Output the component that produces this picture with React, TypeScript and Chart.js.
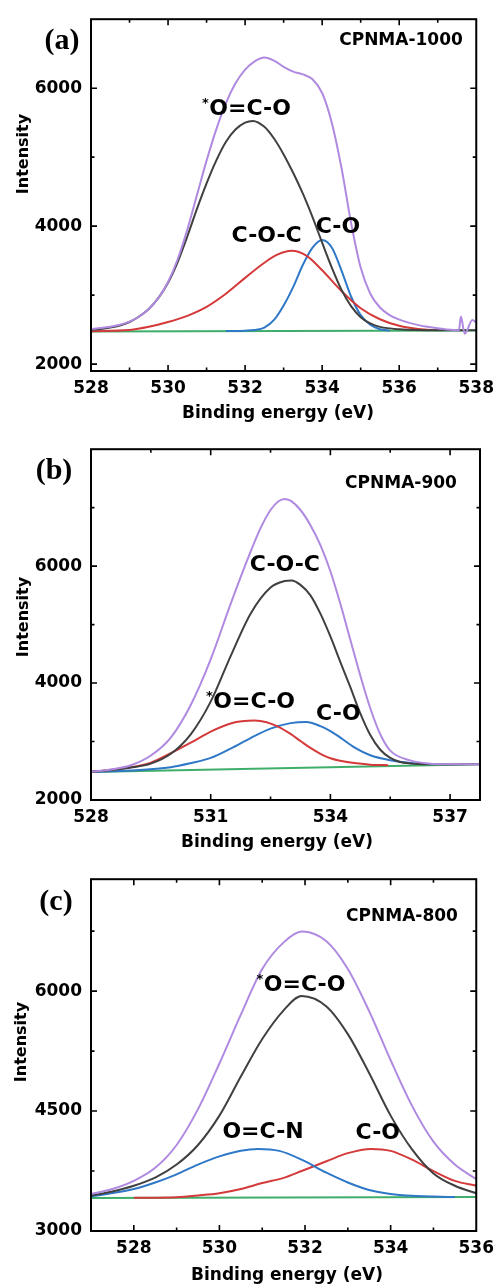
import React, { useEffect, useRef } from "react";
import { Chart, registerables } from "chart.js";

Chart.register(...registerables);

const SANS = '"DejaVu Sans", "Liberation Sans", sans-serif';
const SERIF = '"Liberation Serif", "Times New Roman", serif';

const PURPLE = "#b08ae0";
const BLACK = "#404040";
const RED = "#d43a3a";
const BLUE = "#2f78c8";
const GREEN = "#3fae6a";

// ---------- Panel (a): CPNMA-1000 ----------
const A_X_ENV = [528, 528.25, 528.5, 528.75, 529, 529.25, 529.5, 529.75, 530, 530.25, 530.5, 530.75, 531, 531.25, 531.5, 531.75, 532, 532.25, 532.5, 532.75, 533, 533.25, 533.5, 533.75, 534, 534.25, 534.5, 534.75, 535, 535.25, 535.5, 535.75, 536, 536.5, 537, 537.5, 537.55, 537.6, 537.7, 537.9, 538];
const A_ENV = [2510, 2522, 2540, 2570, 2615, 2690, 2800, 2960, 3190, 3520, 3950, 4450, 4950, 5400, 5780, 6070, 6270, 6390, 6445, 6400, 6310, 6240, 6200, 6130, 5930, 5500, 4850, 4050, 3400, 3020, 2820, 2710, 2645, 2565, 2520, 2490, 2490, 2690, 2440, 2640, 2600];
const A_X_OCO = [528, 528.25, 528.5, 528.75, 529, 529.25, 529.5, 529.75, 530, 530.25, 530.5, 530.75, 531, 531.25, 531.5, 531.75, 532, 532.2, 532.5, 532.75, 533, 533.25, 533.5, 533.75, 534, 534.25, 534.5, 534.75, 535, 535.25, 535.5, 536, 537, 538];
const A_OCO = [2495, 2510, 2530, 2560, 2610, 2690, 2800, 2960, 3180, 3480, 3850, 4250, 4620, 4950, 5220, 5400, 5500, 5525, 5440, 5270, 5040, 4770, 4470, 4130, 3760, 3400, 3080, 2840, 2680, 2590, 2540, 2505, 2490, 2490];
const A_X_COC = [528, 529, 529.5, 530, 530.5, 531, 531.5, 532, 532.5, 532.85, 533.2, 533.6, 534, 534.5, 535, 535.5, 536, 536.5, 537];
const A_COC = [2478, 2495, 2540, 2610, 2700, 2830, 3020, 3250, 3470, 3590, 3643, 3570, 3360, 3060, 2810, 2650, 2555, 2508, 2492];
const A_X_CO = [531.5, 532, 532.25, 532.5, 532.75, 533, 533.25, 533.5, 533.75, 534, 534.25, 534.5, 534.75, 535, 535.25, 535.5, 535.75];
const A_CO = [2480, 2485, 2495, 2530, 2640, 2850, 3120, 3440, 3690, 3800, 3690, 3360, 2980, 2710, 2570, 2505, 2488];
const A_X_BASE = [528, 538];
const A_BASE = [2472, 2488];
const A_X_TICKS = [528, 529, 530, 531, 532, 533, 534, 535, 536, 537, 538];
const A_X_LABELS = [528, 530, 532, 534, 536, 538];
const A_Y_TICKS = [2000, 3000, 4000, 5000, 6000];
const A_Y_LABELS = [2000, 4000, 6000];

// ---------- Panel (b): CPNMA-900 ----------
const B_X_ENV = [528, 528.5, 529, 529.5, 530, 530.5, 531, 531.5, 532, 532.25, 532.5, 532.7, 532.85, 533, 533.25, 533.5, 533.75, 534, 534.25, 534.5, 534.75, 535, 535.25, 535.5, 536, 536.5, 537, 537.75];
const B_ENV = [2482, 2522, 2594, 2761, 3068, 3626, 4407, 5355, 6247, 6650, 6960, 7110, 7150, 7120, 6960, 6700, 6359, 5913, 5355, 4741, 4128, 3570, 3124, 2845, 2678, 2622, 2611, 2612];
const B_X_COC = [528, 528.5, 529, 529.5, 530, 530.5, 531, 531.5, 532, 532.5, 532.85, 533.03, 533.25, 533.5, 533.75, 534, 534.25, 534.5, 534.75, 535, 535.25, 535.5, 535.75, 536, 536.5, 537, 537.75];
const B_COC = [2482, 2515, 2555, 2622, 2790, 3124, 3682, 4462, 5187, 5634, 5745, 5756, 5680, 5500, 5187, 4797, 4360, 3930, 3480, 3110, 2860, 2720, 2650, 2625, 2610, 2608, 2612];
const B_X_OCO = [528, 529, 529.5, 530, 530.5, 531, 531.5, 532.1, 532.4, 532.7, 533, 533.25, 533.5, 533.75, 534, 534.5, 535, 535.45];
const B_OCO = [2482, 2560, 2640, 2800, 2980, 3170, 3310, 3358, 3330, 3250, 3130, 3010, 2890, 2790, 2715, 2640, 2605, 2595];
const B_X_CO = [528, 529, 530, 530.5, 531, 531.5, 532, 532.5, 533, 533.4, 533.75, 534, 534.25, 534.6, 535, 535.5, 536, 536.5];
const B_CO = [2482, 2505, 2560, 2630, 2720, 2880, 3060, 3220, 3315, 3336, 3263, 3180, 3068, 2900, 2765, 2680, 2633, 2612];
const B_X_BASE = [528, 537.75];
const B_BASE = [2480, 2612];
const B_X_TICKS = [528, 529.5, 531, 532.5, 534, 535.5, 537];
const B_X_LABELS = [528, 531, 534, 537];
const B_Y_TICKS = [2000, 3000, 4000, 5000, 6000, 7000];
const B_Y_LABELS = [2000, 4000, 6000];

// ---------- Panel (c): CPNMA-800 ----------
const C_X_ENV = [527, 527.5, 528, 528.5, 529, 529.5, 530, 530.5, 531, 531.5, 531.92, 532.5, 533, 533.5, 534, 534.5, 535, 535.5, 536];
const C_ENV = [3464, 3525, 3627, 3790, 4076, 4524, 5095, 5706, 6277, 6610, 6746, 6624, 6277, 5747, 5136, 4565, 4117, 3831, 3648];
const C_X_OCO = [527, 527.5, 528, 528.5, 529, 529.5, 530, 530.5, 531, 531.5, 531.92, 532.5, 533, 533.5, 534, 534.5, 535, 535.5, 536];
const C_OCO = [3444, 3495, 3566, 3668, 3831, 4076, 4443, 4932, 5401, 5760, 5939, 5808, 5462, 4973, 4443, 4020, 3720, 3566, 3472];
const C_X_OCN = [527, 528, 528.5, 529, 529.5, 530, 530.5, 530.9, 531.4, 531.92, 532.5, 533, 533.5, 534, 534.5, 535, 535.5];
const C_OCN = [3432, 3525, 3607, 3709, 3831, 3933, 4005, 4027, 4002, 3892, 3729, 3607, 3513, 3464, 3440, 3430, 3425];
const C_X_CO = [528, 529, 529.5, 530, 530.5, 531, 531.5, 531.92, 532.5, 533, 533.54, 534, 534.5, 535, 535.5, 536];
const C_CO = [3415, 3423, 3444, 3472, 3525, 3600, 3665, 3750, 3872, 3974, 4027, 4002, 3892, 3750, 3627, 3566];
const C_X_BASE = [527, 536];
const C_BASE = [3412, 3425];
const C_X_TICKS = [527, 528, 529, 530, 531, 532, 533, 534, 535, 536];
const C_X_LABELS = [528, 530, 532, 534, 536];
const C_Y_TICKS = [3000, 3750, 4500, 5250, 6000, 6750];
const C_Y_LABELS = [3000, 4500, 6000];

type Series = { xs: number[]; ys: number[]; color: string };
type Note = { text: string; x: number; y: number; star?: boolean };
type Panel = {
  height: number;
  top: number;
  bottom: number;
  right: number;
  xMin: number;
  xMax: number;
  yMin: number;
  yMax: number;
  xTicks: number[];
  xLabels: number[];
  yTicks: number[];
  yLabels: number[];
  series: Series[];
  notes: Note[];
  tag: string;
  tagPos: [number, number];
  sample: string;
  samplePos: [number, number];
  yTitlePos: [number, number];
  xTitlePos: [number, number];
};

const PANELS: Panel[] = [
  {
    height: 430, top: 13, bottom: 371, right: 481,
    xMin: 528, xMax: 538, yMin: 1900, yMax: 7000,
    xTicks: A_X_TICKS, xLabels: A_X_LABELS, yTicks: A_Y_TICKS, yLabels: A_Y_LABELS,
    series: [
      { xs: A_X_ENV, ys: A_ENV, color: PURPLE },
      { xs: A_X_OCO, ys: A_OCO, color: BLACK },
      { xs: A_X_COC, ys: A_COC, color: RED },
      { xs: A_X_CO, ys: A_CO, color: BLUE },
      { xs: A_X_BASE, ys: A_BASE, color: GREEN },
    ],
    notes: [
      { text: "O=C-O", x: 532.13, y: 5730, star: true },
      { text: "C-O-C", x: 532.56, y: 3893 },
      { text: "C-O", x: 534.41, y: 4021 },
    ],
    tag: "(a)", tagPos: [62, 49],
    sample: "CPNMA-1000", samplePos: [401, 45],
    yTitlePos: [28, 154], xTitlePos: [278, 418],
  },
  {
    height: 430, top: 13, bottom: 370, right: 480,
    xMin: 528, xMax: 537.75, yMin: 2000, yMax: 8000,
    xTicks: B_X_TICKS, xLabels: B_X_LABELS, yTicks: B_Y_TICKS, yLabels: B_Y_LABELS,
    series: [
      { xs: B_X_ENV, ys: B_ENV, color: PURPLE },
      { xs: B_X_COC, ys: B_COC, color: BLACK },
      { xs: B_X_OCO, ys: B_OCO, color: RED },
      { xs: B_X_CO, ys: B_CO, color: BLUE },
      { xs: B_X_BASE, ys: B_BASE, color: GREEN },
    ],
    notes: [
      { text: "C-O-C", x: 532.86, y: 6050 },
      { text: "O=C-O", x: 532.09, y: 3707, star: true },
      { text: "C-O", x: 534.2, y: 3506 },
    ],
    tag: "(b)", tagPos: [54, 49],
    sample: "CPNMA-900", samplePos: [401, 58],
    yTitlePos: [28, 187], xTitlePos: [277, 417],
  },
  {
    height: 427, top: 13, bottom: 371, right: 481,
    xMin: 527, xMax: 536, yMin: 3000, yMax: 7400,
    xTicks: C_X_TICKS, xLabels: C_X_LABELS, yTicks: C_Y_TICKS, yLabels: C_Y_LABELS,
    series: [
      { xs: C_X_ENV, ys: C_ENV, color: PURPLE },
      { xs: C_X_OCO, ys: C_OCO, color: BLACK },
      { xs: C_X_OCN, ys: C_OCN, color: BLUE },
      { xs: C_X_CO, ys: C_CO, color: RED },
      { xs: C_X_BASE, ys: C_BASE, color: GREEN },
    ],
    notes: [
      { text: "O=C-O", x: 531.99, y: 6098, star: true },
      { text: "O=C-N", x: 531.02, y: 4266 },
      { text: "C-O", x: 533.7, y: 4254 },
    ],
    tag: "(c)", tagPos: [56, 50],
    sample: "CPNMA-800", samplePos: [402, 61],
    yTitlePos: [26, 182], xTitlePos: [287, 420],
  },
];

const WIDTH = 501;
const LEFT = 91;

function makeDecor(p: Panel) {
  return {
    id: "decor",
    afterDraw(chart: any) {
      const ctx = chart.ctx as CanvasRenderingContext2D;
      const area = chart.chartArea;
      const xs = chart.scales.x;
      const ys = chart.scales.y;
      ctx.save();
      ctx.strokeStyle = "#000";
      ctx.lineWidth = 2;
      ctx.strokeRect(area.left, area.top, area.right - area.left, area.bottom - area.top);
      ctx.lineWidth = 1.6;
      ctx.beginPath();
      for (const v of p.xTicks) {
        const px = xs.getPixelForValue(v);
        if (px < area.left + 1 || px > area.right - 1) continue;
        const len = p.xLabels.includes(v) ? 6 : 3.5;
        ctx.moveTo(px, area.bottom);
        ctx.lineTo(px, area.bottom - len);
        ctx.moveTo(px, area.top);
        ctx.lineTo(px, area.top + len);
      }
      for (const v of p.yTicks) {
        const py = ys.getPixelForValue(v);
        if (py < area.top + 1 || py > area.bottom - 1) continue;
        const len = p.yLabels.includes(v) ? 6 : 3.5;
        ctx.moveTo(area.left, py);
        ctx.lineTo(area.left + len, py);
        ctx.moveTo(area.right, py);
        ctx.lineTo(area.right - len, py);
      }
      ctx.stroke();

      ctx.fillStyle = "#000";
      ctx.textAlign = "center";
      ctx.textBaseline = "alphabetic";
      ctx.font = `bold 30px ${SERIF}`;
      ctx.fillText(p.tag, p.tagPos[0], p.tagPos[1]);
      ctx.font = `bold 17px ${SANS}`;
      ctx.fillText(p.sample, p.samplePos[0], p.samplePos[1]);
      ctx.font = `bold 17px ${SANS}`;
      ctx.fillText("Binding energy (eV)", p.xTitlePos[0], p.xTitlePos[1]);
      ctx.save();
      ctx.translate(p.yTitlePos[0], p.yTitlePos[1]);
      ctx.rotate(-Math.PI / 2);
      ctx.font = `bold 16px ${SANS}`;
      ctx.fillText("Intensity", 0, 0);
      ctx.restore();
      const size = 22;
      for (const n of p.notes) {
        const cx = xs.getPixelForValue(n.x);
        const cy = ys.getPixelForValue(n.y);
        ctx.font = `bold ${size}px ${SANS}`;
        ctx.textAlign = "center";
        const base = cy + (size * 0.729) / 2;
        ctx.fillText(n.text, cx, base);
        if (n.star) {
          const w = ctx.measureText(n.text).width;
          ctx.font = `bold 13px ${SANS}`;
          ctx.fillText("*", cx - w / 2 - 4, base - size * 0.729 + 8);
        }
      }
      ctx.restore();
    },
  };
}

function PanelChart({ p }: { p: Panel }) {
  const ref = useRef<HTMLCanvasElement | null>(null);
  useEffect(() => {
    if (!ref.current) return;
    const tickFont = { family: SANS, size: 17, weight: "bold" as const };
    const chart = new Chart(ref.current, {
      type: "line",
      data: {
        datasets: p.series.map((s) => ({
          data: s.xs.map((x, i) => ({ x, y: s.ys[i] })),
          borderColor: s.color,
          backgroundColor: s.color,
          borderWidth: 2,
          pointRadius: 0,
          cubicInterpolationMode: "monotone" as const,
          fill: false,
        })),
      },
      options: {
        animation: false,
        responsive: false,
        maintainAspectRatio: false,
        events: [],
        layout: { padding: { top: p.top, right: WIDTH - p.right, left: 0, bottom: 0 } },
        plugins: { legend: { display: false }, tooltip: { enabled: false } },
        scales: {
          x: {
            type: "linear",
            min: p.xMin,
            max: p.xMax,
            afterBuildTicks: (s: any) => {
              s.ticks = p.xTicks.map((v) => ({ value: v }));
            },
            afterFit: (s: any) => {
              s.height = p.height - p.bottom;
            },
            ticks: {
              autoSkip: false,
              maxRotation: 0,
              padding: 7,
              color: "#000",
              font: tickFont,
              callback: (v: any) => (p.xLabels.includes(Number(v)) ? String(v) : ""),
            },
            grid: { display: false, drawTicks: false },
            border: { display: false },
          },
          y: {
            type: "linear",
            min: p.yMin,
            max: p.yMax,
            afterBuildTicks: (s: any) => {
              s.ticks = p.yTicks.map((v) => ({ value: v }));
            },
            afterFit: (s: any) => {
              s.width = LEFT;
            },
            ticks: {
              autoSkip: false,
              padding: 9,
              color: "#000",
              font: tickFont,
              callback: (v: any) => (p.yLabels.includes(Number(v)) ? String(v) : ""),
            },
            grid: { display: false, drawTicks: false },
            border: { display: false },
          },
        },
      },
      plugins: [makeDecor(p)],
    });
    return () => chart.destroy();
  }, [p]);
  return <canvas ref={ref} width={WIDTH} height={p.height} style={{ display: "block" }} />;
}

export default function App() {
  useEffect(() => {
    document.body.style.margin = "0";
    document.body.style.background = "#fff";
  }, []);
  return (
    <div style={{ width: WIDTH, background: "#fff" }}>
      {PANELS.map((p, i) => (
        <PanelChart key={i} p={p} />
      ))}
    </div>
  );
}
